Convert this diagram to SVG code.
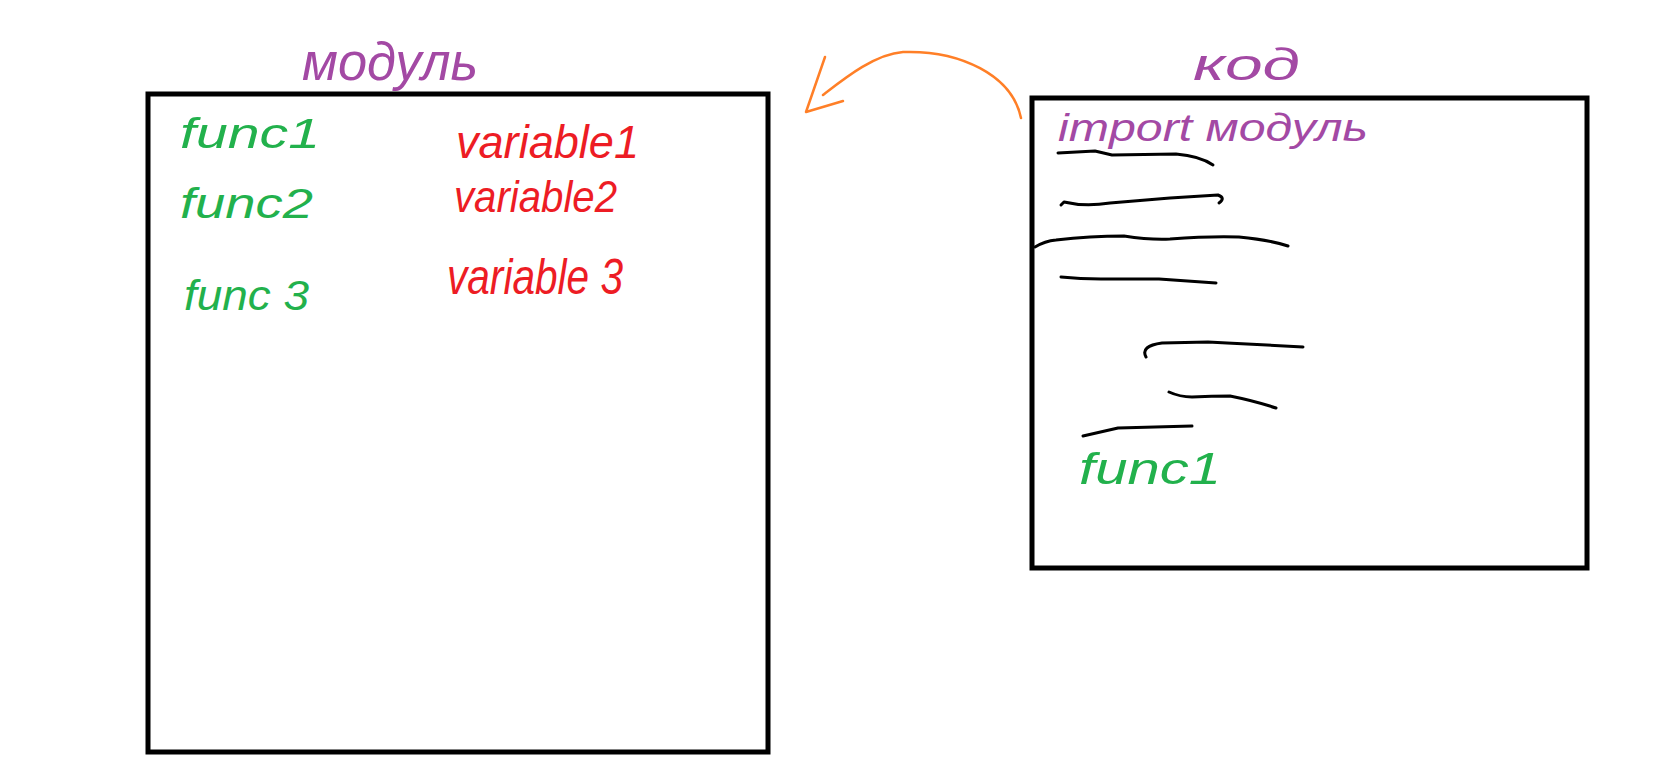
<svg xmlns="http://www.w3.org/2000/svg" width="1673" height="760" viewBox="0 0 1673 760">
<style>
.box{fill:#fff;stroke:#000;stroke-width:5}
.t{font-family:"Liberation Sans","DejaVu Sans",sans-serif;font-style:italic}
.p{fill:#a349a4}
.g{fill:#22b14c}
.r{fill:#ed1c24}
.scr{fill:none;stroke:#000;stroke-width:3;stroke-linecap:round;stroke-linejoin:round}
.arr{fill:none;stroke:#ff7f27;stroke-width:2.5;stroke-linecap:round;stroke-linejoin:round}
</style>
<rect width="1673" height="760" fill="#fff"/>
<g id="module">
<rect class="box" x="148" y="94" width="620" height="658"/>
<text class="t p" x="302" y="80" font-size="54" textLength="176" lengthAdjust="spacingAndGlyphs">модуль</text>
<text class="t g" x="180" y="148" font-size="42" textLength="140" lengthAdjust="spacingAndGlyphs">func1</text>
<text class="t g" x="180" y="218" font-size="42" textLength="133" lengthAdjust="spacingAndGlyphs">func2</text>
<text class="t g" x="184" y="310" font-size="42" textLength="125" lengthAdjust="spacingAndGlyphs">func 3</text>
<text class="t r" x="456" y="158" font-size="46" textLength="183" lengthAdjust="spacingAndGlyphs">variable1</text>
<text class="t r" x="454" y="212" font-size="44" textLength="163" lengthAdjust="spacingAndGlyphs">variable2</text>
<text class="t r" x="447" y="294" font-size="50" textLength="176" lengthAdjust="spacingAndGlyphs">variable 3</text>
</g>
<g id="code">
<rect class="box" x="1032" y="98" width="555" height="470"/>
<text class="t p" x="1193" y="80" font-size="44" textLength="107" lengthAdjust="spacingAndGlyphs">код</text>
<text class="t p" x="1058" y="141" font-size="38" textLength="310" lengthAdjust="spacingAndGlyphs">import модуль</text>
<path class="scr" d="M1058,153 L1095,151 L1112,155 L1176,154 Q1200,156 1213,165"/>
<path class="scr" d="M1061,205 L1064,202 Q1085,207 1110,203 L1170,198 L1218,195 Q1226,198 1219,203"/>
<path class="scr" d="M1035,247 Q1045,241 1056,240 Q1090,236 1124,236 Q1150,240 1170,239 Q1210,236 1239,237 Q1270,240 1288,246"/>
<path class="scr" d="M1061,277 Q1080,279 1101,279 L1159,279 L1216,283"/>
<path class="scr" d="M1146,357 Q1140,346 1162,343 L1208,342 L1227,343 L1303,347"/>
<path class="scr" d="M1169,392 Q1180,397 1192,397 Q1212,396 1230,396 Q1255,401 1276,408"/>
<path class="scr" d="M1083,436 L1118,428 L1192,426"/>
<text class="t g" x="1079" y="484" font-size="44" textLength="142" lengthAdjust="spacingAndGlyphs">func1</text>
</g>
<g id="connectors">
<path class="arr" d="M1021,118 C1012,75 960,50 903,52 C875,54 845,78 823,95"/>
<polyline class="arr" points="825,57 806,112 843,101"/>
</g>
</svg>
